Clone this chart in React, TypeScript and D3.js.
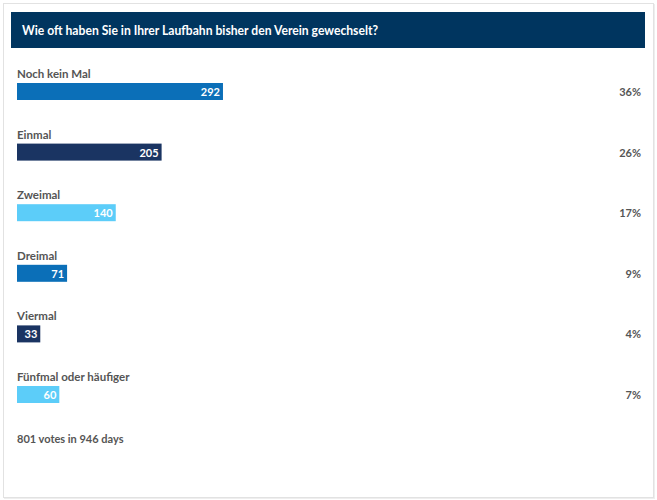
import React from "react";
import * as d3 from "d3";

const title = "Wie oft haben Sie in Ihrer Laufbahn bisher den Verein gewechselt?";
const categories = ["Noch kein Mal", "Einmal", "Zweimal", "Dreimal", "Viermal", "Fünfmal oder häufiger"];
const votes = [292, 205, 140, 71, 33, 60];
const barColors = ["#0b6fb8", "#1a3462", "#5ccdf9"];
const totalVotes = 801;
const footer = "801 votes in 946 days";

const W = 657;
const H = 500;
const FONT = "Lato, 'Open Sans', sans-serif";

export default function App() {
  const x = d3.scaleLinear().domain([0, totalVotes]).range([0, 565]);
  const y = d3
    .scaleBand<number>()
    .domain(d3.range(categories.length))
    .range([83, 83 + 60.6 * categories.length])
    .paddingInner(0)
    .paddingOuter(0);
  const barH = 17;
  const left = 17;

  return (
    <svg
      width={W}
      height={H}
      style={{ position: "absolute", left: 0, top: 0, background: "#fff" }}
      fontFamily={FONT}
    >
      <rect x={0} y={0} width={W} height={H} fill="#fff" />
      <rect x={3.5} y={3.5} width={650} height={494} fill="#fff" stroke="#e2e2e2" strokeWidth={1} />
      <line x1={654.5} y1={4} x2={654.5} y2={498} stroke="#eeeeee" strokeWidth={1} />
      <line x1={4} y1={498.5} x2={655} y2={498.5} stroke="#eeeeee" strokeWidth={1} />
      <rect x={11} y={12} width={634} height={36} fill="#00355f" />
      <text
        x={22}
        y={35}
        fill="#fff"
        fontSize={13.5}
        fontWeight={700}
        textLength={356}
        lengthAdjust="spacingAndGlyphs"
      >
        {title}
      </text>
      {categories.map((c, i) => {
        const y0 = y(i)!;
        const w = x(votes[i]);
        const pct = Math.round((votes[i] / totalVotes) * 100);
        return (
          <g key={c}>
            <text x={left} y={y0 - 5} fill="#555" fontSize={11.5} fontWeight={700}>
              {c}
            </text>
            <rect x={left} y={y0} width={w} height={barH} fill={barColors[i % 3]} />
            <text
              x={left + w - 3}
              y={y0 + 13}
              fill="#fff"
              fontSize={11}
              fontWeight={700}
              textAnchor="end"
            >
              {votes[i]}
            </text>
            <text x={641} y={y0 + 13} fill="#555" fontSize={11} fontWeight={700} textAnchor="end">
              {pct}%
            </text>
          </g>
        );
      })}
      <text x={left} y={443} fill="#555" fontSize={11} fontWeight={700}>
        {footer}
      </text>
    </svg>
  );
}
